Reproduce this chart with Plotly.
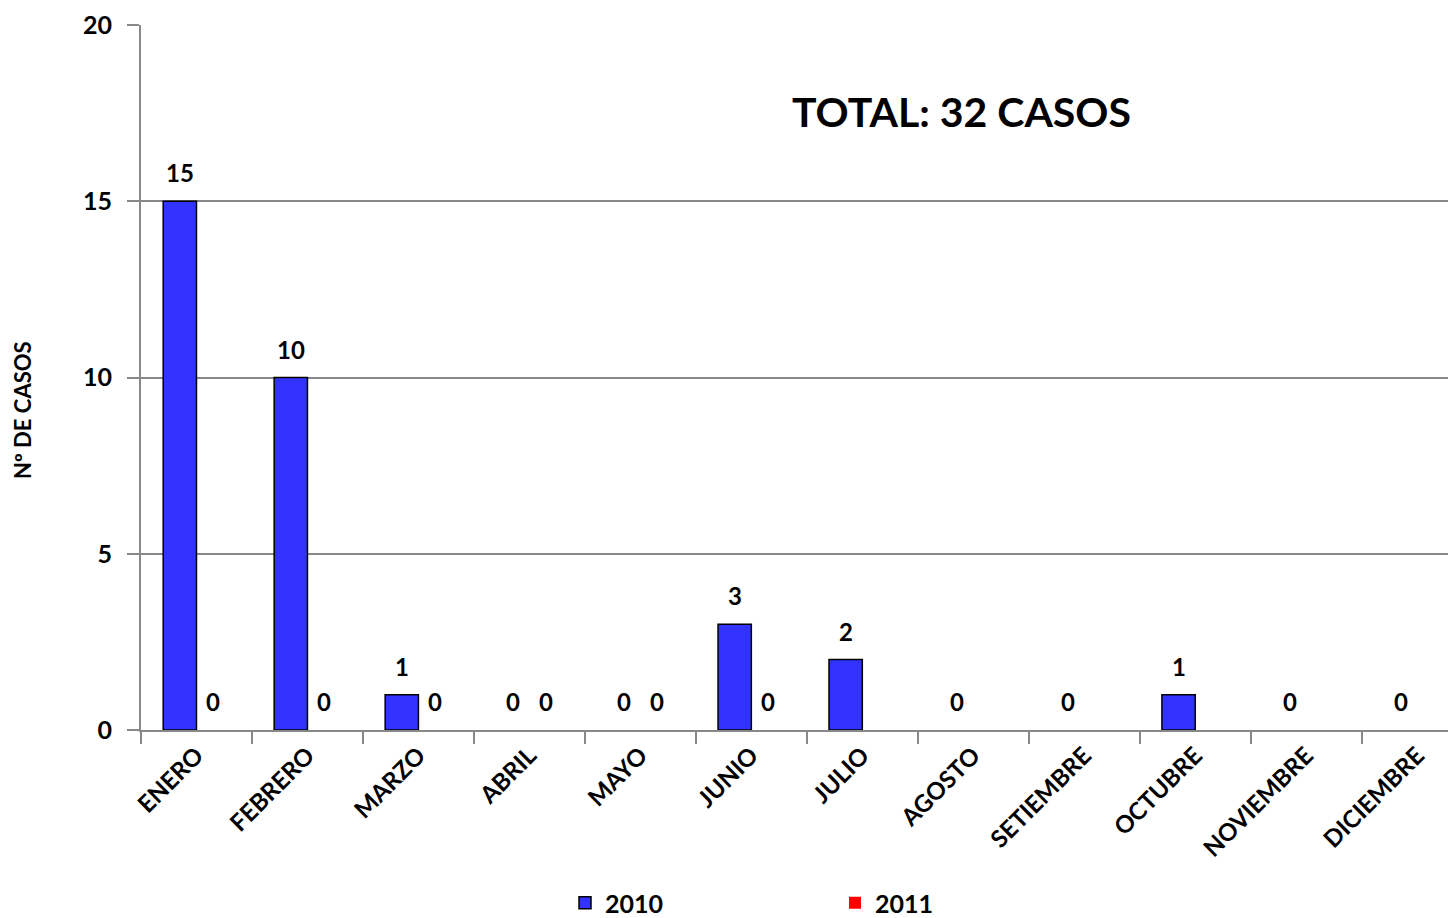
import plotly.graph_objects as go

months = ["ENERO", "FEBRERO", "MARZO", "ABRIL", "MAYO", "JUNIO", "JULIO",
          "AGOSTO", "SETIEMBRE", "OCTUBRE", "NOVIEMBRE", "DICIEMBRE"]
casos_2010 = [15, 10, 1, 0, 0, 3, 2, 0, 0, 1, 0, 0]
casos_2011 = [0, 0, 0, 0, 0, 0, None, None, None, None, None, None]
total_text = "TOTAL: 32 CASOS"

font_fam = "Lato, Calibri, 'Open Sans', sans-serif"

# page has an 8px body margin, so the figure is 8px smaller than the window
W, H, PAD = 1448, 910, 8
L, T, B = 141 - PAD, 25 - PAD, 188
plot_w = W - L
plot_h = H - T - B
bargap = 0.4
cat_px = plot_w / 11.85
bar_off = cat_px * (1 - bargap) / 4


def edge_widths(vals):
    # zero-height bars show no outline
    return [0 if not v else 1.5 for v in vals]


fig = go.Figure()
series = [("2010", casos_2010, "#3333FF", -bar_off), ("2011", casos_2011, "#FF0000", bar_off)]
for name, vals, color, shift in series:
    fig.add_trace(go.Bar(
        x=months, y=vals, name=name,
        marker=dict(color=color, line=dict(color="black", width=edge_widths(vals))),
    ))
    for m, v in zip(months, vals):
        if v is None:
            continue
        fig.add_annotation(
            x=m, y=v, text="<b>%d</b>" % v, showarrow=False,
            xanchor="center", yanchor="bottom", xshift=shift, yshift=12,
            font=dict(size=24, color="black", family=font_fam),
        )

fig.add_annotation(
    text="<b>" + total_text + "</b>", x=(961 - 141) / plot_w, y=(730 - 112) / plot_h,
    xref="paper", yref="paper", xanchor="center", yanchor="middle",
    showarrow=False, font=dict(size=41, color="black", family=font_fam),
)
fig.add_annotation(
    text="<b>Nº DE CASOS</b>", x=(22 - 141) / plot_w, y=(730 - 410) / plot_h,
    xref="paper", yref="paper", xanchor="center", yanchor="middle",
    showarrow=False, textangle=-90, font=dict(size=22, color="black", family=font_fam),
)

fig.update_layout(
    width=W, height=H,
    margin=dict(l=L, r=0, t=T, b=B, autoexpand=False),
    plot_bgcolor="white", paper_bgcolor="white",
    font=dict(family=font_fam, color="black", size=20),
    barmode="group", bargap=bargap, bargroupgap=0,
    legend=dict(
        orientation="h", x=(565 - 141) / plot_w, xanchor="left",
        y=-(903 - 730) / plot_h, yanchor="middle",
        font=dict(size=25, family=font_fam, weight="bold"),
        entrywidth=225, entrywidthmode="pixels",
        itemwidth=30,
    ),
    showlegend=True,
)
fig.update_xaxes(
    range=[-0.5, 11.35], tickangle=-45, tickson="boundaries",
    ticks="outside", ticklen=12, tickcolor="#888888", tickwidth=2,
    showline=True, linecolor="#888888", linewidth=2,
    tickfont=dict(size=24, family=font_fam, weight="bold"),
    automargin=False,
)
fig.update_yaxes(
    range=[0, 20], dtick=5, ticks="outside", ticklen=12, tickcolor="#888888", tickwidth=2,
    showline=True, linecolor="#888888", linewidth=2,
    showgrid=True, gridcolor="#888888", gridwidth=2,
    tickfont=dict(size=25, family=font_fam, weight="bold"),
    ticklabelstandoff=10,
    zeroline=False, automargin=False,
)

fig.write_html("out.html")
